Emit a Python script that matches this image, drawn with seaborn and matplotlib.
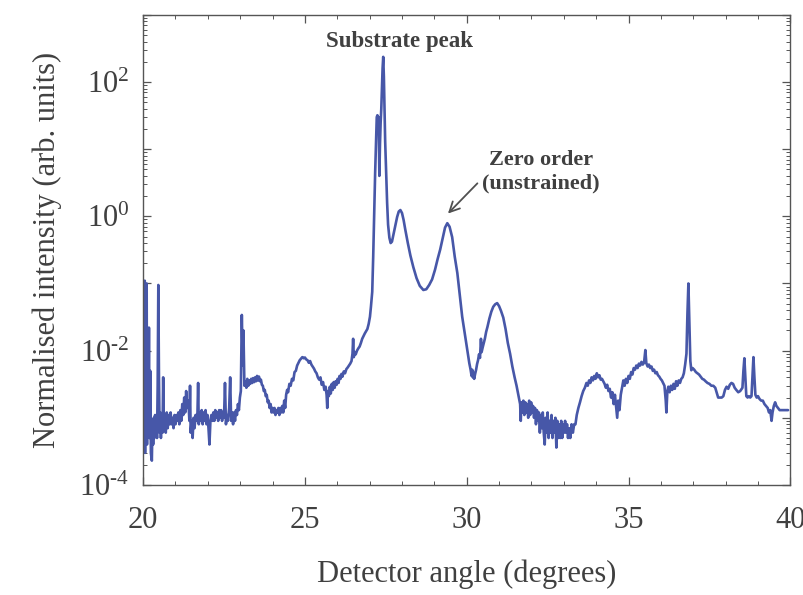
import numpy as np
import pandas as pd
import matplotlib
matplotlib.use("Agg")
import matplotlib.pyplot as plt
import matplotlib.ticker as mticker
import seaborn as sns

# (detector angle in degrees, normalised intensity)
scan_low_angle = [
    (20.00, 0.0008), (20.02, 0.10), (20.03, 0.0005), (20.05, 0.11), (20.06, 0.0003),
    (20.08, 0.09), (20.09, 0.0006), (20.11, 0.10), (20.12, 0.0004), (20.14, 0.02),
    (20.16, 0.0008), (20.18, 0.022), (20.20, 0.0005), (20.22, 0.005), (20.24, 0.0003),
    (20.27, 0.00023), (20.29, 0.0009), (20.31, 0.0004), (20.33, 0.0010), (20.35, 0.0005),
    (20.37, 0.0011), (20.39, 0.0006), (20.41, 0.0009), (20.43, 0.0005), (20.45, 0.0030),
    (20.47, 0.095), (20.49, 0.0040), (20.51, 0.0006), (20.53, 0.0012), (20.55, 0.0005),
    (20.57, 0.0010), (20.60, 0.0006), (20.62, 0.0040), (20.64, 0.0007), (20.67, 0.0011),
    (20.70, 0.0006), (20.73, 0.0012), (20.76, 0.0007), (20.79, 0.0011), (20.82, 0.0008),
    (20.85, 0.0012), (20.88, 0.0008), (20.91, 0.0010), (20.94, 0.0007), (20.97, 0.0011),
    (21.00, 0.0008), (21.03, 0.0011), (21.06, 0.0009), (21.09, 0.0012), (21.12, 0.0008),
    (21.15, 0.0013), (21.18, 0.0009), (21.21, 0.0016), (21.24, 0.0011), (21.27, 0.0020),
    (21.30, 0.0012), (21.33, 0.0025), (21.36, 0.0014), (21.40, 0.0018), (21.43, 0.0009),
    (21.45, 0.0030), (21.47, 0.0006), (21.50, 0.0009), (21.53, 0.0005), (21.56, 0.0010),
    (21.59, 0.0007), (21.62, 0.0011), (21.65, 0.0009), (21.68, 0.0012), (21.70, 0.0033),
    (21.72, 0.0008), (21.75, 0.0012), (21.78, 0.0009), (21.81, 0.0013), (21.84, 0.0008),
    (21.87, 0.0012), (21.90, 0.0009), (21.93, 0.0013), (21.96, 0.0008), (21.99, 0.0011),
    (22.02, 0.0007), (22.05, 0.0004), (22.08, 0.0009), (22.11, 0.0011), (22.14, 0.0009),
    (22.17, 0.0012), (22.20, 0.0009), (22.23, 0.0013), (22.26, 0.0010), (22.29, 0.0012),
    (22.32, 0.0009), (22.35, 0.0013), (22.38, 0.0010), (22.41, 0.0013), (22.44, 0.0009),
    (22.47, 0.0012), (22.50, 0.0010), (22.53, 0.0033), (22.56, 0.0008), (22.59, 0.0011),
    (22.62, 0.0009), (22.66, 0.0014), (22.69, 0.0040), (22.72, 0.0009), (22.75, 0.0012),
    (22.78, 0.0008), (22.81, 0.0012), (22.84, 0.0009), (22.87, 0.0013), (22.90, 0.0011),
    (22.93, 0.0016), (22.96, 0.0013), (22.99, 0.0020), (23.02, 0.0025), (23.05, 0.034),
    (23.08, 0.0060), (23.10, 0.020),
]

scan_rising = [
    (23.13, 0.0030), (23.16, 0.0035), (23.19, 0.0028), (23.22, 0.0038), (23.25, 0.0030),
    (23.28, 0.0036), (23.31, 0.0032), (23.34, 0.0038), (23.37, 0.0033), (23.40, 0.0039),
    (23.43, 0.0034), (23.46, 0.0040), (23.49, 0.0035), (23.52, 0.0042), (23.55, 0.0036),
    (23.58, 0.0041), (23.61, 0.0035), (23.64, 0.0037), (23.67, 0.0031), (23.70, 0.0030),
    (23.73, 0.0025), (23.76, 0.0026), (23.79, 0.0021), (23.82, 0.0022), (23.85, 0.0017),
    (23.88, 0.0018), (23.91, 0.0014), (23.94, 0.0016), (23.97, 0.0012), (24.00, 0.0014),
    (24.03, 0.0012), (24.06, 0.0014), (24.09, 0.0011), (24.12, 0.0013), (24.15, 0.0012),
    (24.18, 0.0014), (24.21, 0.0011), (24.24, 0.0014), (24.27, 0.0012), (24.30, 0.0015),
    (24.33, 0.0012), (24.36, 0.0018), (24.39, 0.0014), (24.42, 0.0022), (24.45, 0.0026),
    (24.48, 0.0024), (24.52, 0.0032), (24.56, 0.0030), (24.60, 0.0038), (24.64, 0.0036),
    (24.68, 0.0048), (24.72, 0.0050), (24.76, 0.0060), (24.80, 0.0066), (24.84, 0.0072),
    (24.88, 0.0076), (24.92, 0.0080), (24.96, 0.0077), (25.00, 0.0079), (25.04, 0.0074),
    (25.08, 0.0072), (25.12, 0.0066), (25.16, 0.0070), (25.20, 0.0062), (25.24, 0.0058),
    (25.28, 0.0054), (25.32, 0.0049), (25.36, 0.0046), (25.40, 0.0040), (25.44, 0.0037),
    (25.48, 0.0040), (25.52, 0.0031), (25.56, 0.0034), (25.60, 0.0026), (25.64, 0.0029),
    (25.67, 0.0022), (25.69, 0.0014), (25.71, 0.0025), (25.74, 0.0021), (25.77, 0.0029),
    (25.80, 0.0023), (25.83, 0.0032), (25.86, 0.0026), (25.89, 0.0034), (25.92, 0.0028),
    (25.95, 0.0035), (25.98, 0.0031), (26.01, 0.0038), (26.04, 0.0033), (26.07, 0.0042),
    (26.10, 0.0038), (26.13, 0.0045), (26.16, 0.0041), (26.20, 0.0049), (26.24, 0.0046),
    (26.28, 0.0053), (26.32, 0.0056), (26.36, 0.0060), (26.40, 0.0064), (26.44, 0.0070),
    (26.47, 0.0090), (26.49, 0.015), (26.51, 0.0080), (26.54, 0.0095), (26.57, 0.0088),
    (26.61, 0.0100), (26.65, 0.0108), (26.69, 0.0115), (26.73, 0.0130), (26.77, 0.0150),
    (26.81, 0.0165), (26.85, 0.0180), (26.89, 0.0195), (26.93, 0.0210), (26.97, 0.0250),
    (27.01, 0.032), (27.04, 0.045), (27.08, 0.075),
]

scan_peaks = [
    (27.11, 0.25), (27.14, 1.1), (27.17, 4.4), (27.20, 15.0), (27.22, 30.0),
    (27.24, 32.0), (27.26, 22.0), (27.28, 30.0), (27.30, 4.0), (27.32, 12.0),
    (27.34, 25.0), (27.36, 40.0), (27.38, 80.0), (27.40, 160.0), (27.42, 237.0),
    (27.44, 120.0), (27.46, 40.0), (27.48, 13.0), (27.51, 4.4), (27.54, 1.6),
    (27.57, 0.75), (27.61, 0.48), (27.65, 0.40), (27.69, 0.42), (27.74, 0.55),
    (27.79, 0.72), (27.85, 0.98), (27.90, 1.18), (27.95, 1.24), (28.00, 1.12),
    (28.05, 0.88), (28.10, 0.64), (28.18, 0.40), (28.26, 0.26), (28.35, 0.175),
    (28.45, 0.12), (28.55, 0.092), (28.66, 0.080), (28.75, 0.082), (28.84, 0.095),
    (28.93, 0.115), (29.02, 0.16), (29.10, 0.23), (29.18, 0.32), (29.26, 0.48),
    (29.33, 0.68), (29.40, 0.79), (29.47, 0.70), (29.55, 0.49), (29.63, 0.25),
    (29.71, 0.143), (29.79, 0.065), (29.86, 0.032), (29.94, 0.018), (30.02, 0.010),
    (30.08, 0.0065), (30.12, 0.0052), (30.15, 0.0042), (30.17, 0.0052), (30.19, 0.0040),
    (30.21, 0.0047), (30.23, 0.0038), (30.26, 0.0045), (30.29, 0.0052), (30.32, 0.0063),
    (30.35, 0.0072), (30.38, 0.0088), (30.41, 0.0078), (30.44, 0.0150), (30.46, 0.0095),
    (30.49, 0.0110),
]

scan_valley = [
    (30.52, 0.0125), (30.56, 0.0150), (30.60, 0.0190), (30.64, 0.0225), (30.70, 0.030),
    (30.76, 0.038), (30.82, 0.045), (30.88, 0.049), (30.94, 0.051), (31.00, 0.046),
    (31.06, 0.039), (31.13, 0.031), (31.20, 0.021), (31.27, 0.013), (31.34, 0.0090),
    (31.41, 0.0058), (31.48, 0.0040), (31.54, 0.0030), (31.58, 0.0024), (31.62, 0.0019),
    (31.65, 0.0016), (31.67, 0.0009), (31.69, 0.0017), (31.72, 0.0012), (31.75, 0.0018),
    (31.78, 0.0011), (31.81, 0.0017), (31.84, 0.0012), (31.87, 0.0016), (31.90, 0.0010),
    (31.93, 0.0018), (31.96, 0.0011), (31.99, 0.0017), (32.02, 0.0012), (32.05, 0.0015),
    (32.08, 0.0010), (32.11, 0.0014), (32.14, 0.0008), (32.17, 0.0013), (32.20, 0.0009),
    (32.23, 0.0012), (32.26, 0.0006), (32.29, 0.0011), (32.32, 0.0007), (32.35, 0.0012),
    (32.38, 0.0006), (32.41, 0.0004), (32.44, 0.0010), (32.47, 0.0006), (32.50, 0.0012),
    (32.53, 0.0005), (32.56, 0.0009), (32.59, 0.0006), (32.62, 0.0011), (32.65, 0.0005),
    (32.68, 0.0009), (32.71, 0.0006), (32.74, 0.0010), (32.77, 0.00036), (32.80, 0.0009),
    (32.83, 0.0005), (32.86, 0.0008), (32.89, 0.0005), (32.92, 0.0009), (32.95, 0.0005),
    (32.98, 0.0008), (33.01, 0.0006), (33.04, 0.0009), (33.07, 0.0006), (33.10, 0.0008),
    (33.13, 0.0005), (33.16, 0.0007), (33.20, 0.0005), (33.24, 0.0008), (33.28, 0.0006),
]

scan_high_angle = [
    (33.32, 0.0008), (33.36, 0.0008), (33.40, 0.0011), (33.45, 0.0014), (33.50, 0.0017),
    (33.55, 0.0021), (33.60, 0.0025), (33.65, 0.0028), (33.70, 0.0033), (33.74, 0.0030),
    (33.78, 0.0036), (33.82, 0.0033), (33.86, 0.0040), (33.90, 0.0036), (33.94, 0.0042),
    (33.98, 0.0038), (34.02, 0.0046), (34.06, 0.0040), (34.10, 0.0043), (34.14, 0.0037),
    (34.18, 0.0038), (34.22, 0.0035), (34.26, 0.0032), (34.30, 0.0028), (34.34, 0.0031),
    (34.38, 0.0025), (34.42, 0.0027), (34.46, 0.0020), (34.50, 0.0024), (34.54, 0.0016),
    (34.58, 0.0022), (34.62, 0.0014), (34.65, 0.0010), (34.68, 0.0018), (34.72, 0.0013),
    (34.76, 0.0022), (34.80, 0.0028), (34.84, 0.0036), (34.88, 0.0030), (34.92, 0.0038),
    (34.96, 0.0033), (35.00, 0.0042), (35.04, 0.0038), (35.08, 0.0048), (35.12, 0.0044),
    (35.16, 0.0055), (35.20, 0.0052), (35.24, 0.0060), (35.28, 0.0055), (35.32, 0.0064),
    (35.36, 0.0060), (35.40, 0.0068), (35.44, 0.0062), (35.48, 0.0066), (35.52, 0.0102),
    (35.55, 0.0065), (35.59, 0.0058), (35.63, 0.0062), (35.67, 0.0055), (35.71, 0.0058),
    (35.75, 0.0050), (35.79, 0.0052), (35.83, 0.0046), (35.87, 0.0048), (35.91, 0.0043),
    (35.95, 0.0041), (35.99, 0.0038), (36.03, 0.0036), (36.07, 0.0033), (36.11, 0.0030),
    (36.15, 0.0018), (36.17, 0.0012), (36.20, 0.0025), (36.23, 0.0029), (36.27, 0.0024),
    (36.31, 0.0030), (36.35, 0.0026), (36.39, 0.0032), (36.43, 0.0027), (36.47, 0.0035),
    (36.51, 0.0030), (36.55, 0.0036), (36.59, 0.0033), (36.63, 0.0038), (36.67, 0.0040),
    (36.71, 0.0046), (36.75, 0.0062), (36.79, 0.0090), (36.82, 0.035), (36.85, 0.10),
    (36.88, 0.025), (36.91, 0.0070), (36.94, 0.0051), (36.98, 0.0055), (37.03, 0.0052),
    (37.08, 0.0048), (37.13, 0.0046), (37.18, 0.0044), (37.23, 0.0041), (37.28, 0.0038),
    (37.33, 0.0037), (37.38, 0.0035), (37.44, 0.0033), (37.50, 0.0032), (37.56, 0.0030),
    (37.62, 0.0030), (37.68, 0.0028), (37.72, 0.0024), (37.77, 0.0020), (37.82, 0.0020),
    (37.88, 0.0020), (37.93, 0.0021), (37.98, 0.0026), (38.03, 0.0029), (38.08, 0.0027),
    (38.13, 0.0031), (38.18, 0.0033), (38.23, 0.0032), (38.28, 0.0028), (38.33, 0.0026),
    (38.39, 0.0024), (38.45, 0.0025), (38.52, 0.0028), (38.55, 0.0050), (38.58, 0.0077),
    (38.61, 0.0040), (38.64, 0.0021), (38.68, 0.0020), (38.72, 0.0021), (38.76, 0.0020),
    (38.80, 0.0021), (38.83, 0.0040), (38.86, 0.0080), (38.89, 0.0040), (38.92, 0.0022),
    (38.96, 0.0020), (39.00, 0.0021), (39.05, 0.0019), (39.10, 0.0018), (39.15, 0.0018),
    (39.20, 0.0016), (39.25, 0.0015), (39.30, 0.0014), (39.34, 0.0012), (39.38, 0.0013),
    (39.42, 0.0009), (39.45, 0.0012), (39.49, 0.0015), (39.53, 0.0017), (39.57, 0.0015),
    (39.62, 0.0014), (39.67, 0.0013), (39.72, 0.0013), (39.80, 0.0013), (39.93, 0.0013),
]

substrate_label = "Substrate peak"
substrate_pos = (27.91, 400)
zero_order_label = "Zero order\n(unstrained)"
zero_order_pos = (32.3, 4.6)
zero_order_arrow_tail = (30.33, 3.1)
zero_order_arrow_head = (29.42, 1.1)

LINE_COLOR = "#4757a8"
TEXT_COLOR = "#404040"
AXIS_COLOR = "#555555"


def build_frame(*segments):
    rows = [pt for seg in segments for pt in seg]
    return pd.DataFrame(rows, columns=["angle", "intensity"])


def even_power_label(value, pos):
    exp = int(round(np.log10(value)))
    if exp % 2 == 0:
        # short hyphen like the original, not a long minus sign
        return "10$^{" + str(exp).replace("-", "\u2010") + "}$"
    return ""


df = build_frame(scan_low_angle, scan_rising, scan_peaks, scan_valley, scan_high_angle)

sns.set_style("ticks")
plt.rcParams["font.family"] = ["Liberation Serif", "DejaVu Serif"]
plt.rcParams["mathtext.fontset"] = "custom"
plt.rcParams["mathtext.rm"] = "Liberation Serif"
plt.rcParams["mathtext.it"] = "Liberation Serif:italic"
plt.rcParams["mathtext.bf"] = "Liberation Serif:bold"

fig = plt.figure(figsize=(8.04, 5.95), dpi=100)
ax = fig.add_axes([0.178, 0.185, 0.805, 0.79])

sns.lineplot(data=df, x="angle", y="intensity", sort=False, estimator=None,
             color=LINE_COLOR, linewidth=1.9, ax=ax)

ax.set_yscale("log")
ax.set_xlim(20, 40)
ax.set_ylim(1e-4, 1e3)

ax.xaxis.set_major_locator(mticker.MultipleLocator(5))
ax.xaxis.set_minor_locator(mticker.MultipleLocator(1))
ax.yaxis.set_major_locator(mticker.LogLocator(base=10, numticks=20))
ax.yaxis.set_minor_locator(mticker.LogLocator(base=10, subs=np.arange(2, 10), numticks=100))
ax.yaxis.set_major_formatter(mticker.FuncFormatter(even_power_label))
ax.yaxis.set_minor_formatter(mticker.NullFormatter())

ax.tick_params(which="both", direction="in", top=True, right=True,
               color=AXIS_COLOR, labelcolor=TEXT_COLOR)
ax.tick_params(which="major", length=6, width=0.9, labelsize=22)
ax.tick_params(which="minor", length=3, width=0.7)
ax.tick_params(axis="x", which="major", pad=15)
ax.tick_params(axis="y", which="major", pad=10)

for spine in ax.spines.values():
    spine.set_color(AXIS_COLOR)
    spine.set_linewidth(1.0)

ax.set_xlabel("Detector angle (degrees)", fontsize=22, color=TEXT_COLOR, labelpad=18)
ax.set_ylabel("Normalised intensity (arb. units)", fontsize=22, color=TEXT_COLOR, labelpad=12)

ax.text(*substrate_pos, substrate_label, ha="center", va="center",
        fontsize=16.5, fontweight="bold", color=TEXT_COLOR)
ax.text(*zero_order_pos, zero_order_label, ha="center", va="center",
        fontsize=16, fontweight="bold", color=TEXT_COLOR, linespacing=1.2)
ax.annotate("", xy=zero_order_arrow_head, xytext=zero_order_arrow_tail,
            arrowprops=dict(arrowstyle="->", color="#505050", lw=1.3,
                            shrinkA=0, shrinkB=0, mutation_scale=18))

fig.savefig("out.png", dpi=100, facecolor="white")
